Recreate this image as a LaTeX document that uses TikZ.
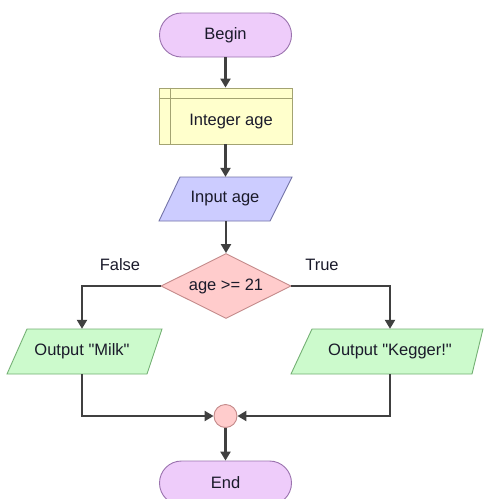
\documentclass[tikz,border=0pt]{standalone}
\usepackage{fontspec}
\setmainfont{Liberation Sans}[Ligatures=TeXOff]
\usetikzlibrary{shapes.geometric,arrows.meta}
\pgfdeclarelayer{bg}
\pgfsetlayers{bg,main}
\definecolor{termfill}{HTML}{EECCFA}
\definecolor{termdraw}{HTML}{9A72AE}
\definecolor{declfill}{HTML}{FFFFCC}
\definecolor{decldraw}{HTML}{A3A372}
\definecolor{inpfill}{HTML}{CCCCFF}
\definecolor{inpdraw}{HTML}{7474A8}
\definecolor{decfill}{HTML}{FFCCCC}
\definecolor{decdraw}{HTML}{C48A8A}
\definecolor{outfill}{HTML}{CCFACC}
\definecolor{outdraw}{HTML}{74B074}
\definecolor{linecol}{HTML}{404040}
\definecolor{txtcol}{HTML}{1A1A2A}
\begin{document}
\begin{tikzpicture}[x=1pt,y=-1pt,
  every node/.style={font=\fontsize{16.5}{18}\selectfont, text=txtcol},
  termbox/.style={draw=termdraw, fill=termfill, line width=0.9pt, rectangle, rounded corners=22pt, minimum width=132pt, minimum height=44pt, inner sep=0pt},
  declbox/.style={draw=decldraw, fill=declfill, line width=0.9pt, rectangle, minimum width=133pt, minimum height=56pt, inner sep=0pt},
  iobox/.style={rectangle, minimum height=45pt, inner sep=0pt},
  decbox/.style={diamond, aspect=2, draw=decdraw, fill=decfill, line width=0.9pt, minimum width=130pt, minimum height=65pt, inner sep=0pt},
  mergebox/.style={circle, draw=decdraw, fill=decfill, line width=0.9pt, minimum size=23pt, inner sep=0pt},
  flow/.style={draw=linecol, line width=2.3pt, -{Triangle[width=10pt,length=9pt]}},
  lbl/.style={inner sep=0pt}
]
\useasboundingbox (0,0) rectangle (483,499);

\node[termbox] (begin) at (225.5,35) {Begin};
\node[declbox] (decl) at (225.5,116) {};
\node[lbl] (decltxt) at (231,122) {Integer age};
\draw[decldraw, line width=0.9pt] ([xshift=12pt]decl.north west) -- ([xshift=12pt]decl.south west);
\draw[decldraw, line width=0.9pt] ([yshift=-11pt]decl.north west) -- ([yshift=-11pt]decl.north east);

\node[iobox, minimum height=44pt] (inp) at (225,199) {Input age};
\node[decbox] (dec) at (226,286) {age >= 21};
\node[iobox] (milk) at (82,351.5) {Output "Milk"};
\node[iobox] (kegger) at (390,351.5) {Output "Kegger!"};
\node[mergebox] (merge) at (225.5,416) {};
\node[termbox] (end) at (225.5,483) {End};

\node[lbl] (flbl) at (120,265) {False};
\node[lbl] (tlbl) at (322,265) {True};

\begin{pgfonlayer}{bg}
  \draw[draw=inpdraw, fill=inpfill, line width=0.9pt] (180,177) -- (292,177) -- (270,221) -- (159,221) -- cycle;
  \draw[draw=outdraw, fill=outfill, line width=0.9pt] (27,329) -- (162,329) -- (147,374) -- (7,374) -- cycle;
  \draw[draw=outdraw, fill=outfill, line width=0.9pt] (312,329) -- (483,329) -- (472,374) -- (291,374) -- cycle;
\end{pgfonlayer}

\draw[flow] (begin.south) -- (decl.north);
\draw[flow] (decl.south) -- (inp.north -| decl.south);
\draw[flow] (inp.south -| dec.north) -- (dec.north);
\draw[flow] (dec.west) -| (milk.north);
\draw[flow] (dec.east) -| (kegger.north);
\draw[flow] (milk.south) |- (merge.west);
\draw[flow] (kegger.south) |- (merge.east);
\draw[flow] (merge.south) -- (end.north);
\end{tikzpicture}
\end{document}
